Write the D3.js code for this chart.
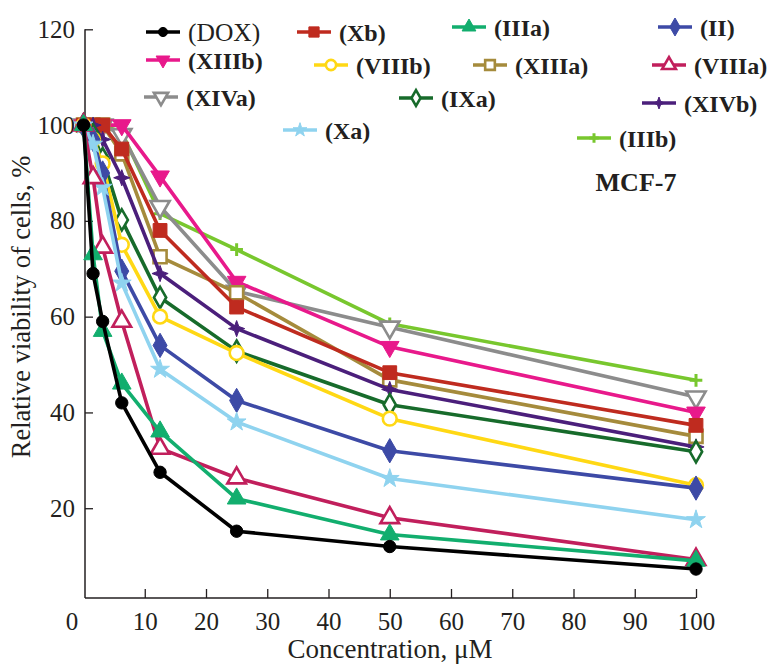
<!DOCTYPE html>
<html><head><meta charset="utf-8">
<script src="https://cdn.jsdelivr.net/npm/d3@7"></script>
<style>
body{margin:0;background:#fff}
svg{display:block}
text{font-family:"Liberation Serif","Times New Roman",serif;fill:#231f20}
</style>
</head><body><svg id="c" width="773" height="665"></svg>
<script>
// ---- data ----
const concentrations = [0, 1.56, 3.125, 6.25, 12.5, 25, 50, 100];
const DOX   = [100, 69, 59, 42, 27.5, 15.2, 12, 7.3];
const Xb    = [100, 100, 100, 95, 78, 62, 48.3, 37.3];
const IIIa  = [100, 73, 57, 46, 36, 22, 14.5, 9];
const II    = [100, 97, 90, 69.5, 54, 42.5, 32, 24.2];
const XIIIb = [100, 100, 100, 100, 89.3, 67.3, 53.7, 40];
const VIIIb = [100, 97, 92, 75, 60, 52.4, 38.7, 24.8];
const XIIIa = [100, 100, 100, 94, 72.5, 65, 46.8, 35];
const VIIIa = [100, 89, 74.5, 59, 32.5, 26.3, 18, 9.3];
const XIVa  = [100, 100, 100, 98, 83, 65.3, 57.8, 43.2];
const IXa   = [100, 98, 93, 80.2, 64, 52.8, 41.6, 31.8];
const XIVb  = [100, 100, 97, 89, 69, 57.5, 44.8, 32.8];
const Xa    = [100, 96, 87, 67, 49, 38, 26.2, 17.6];
const IIIb  = [100, 100, 100, 98.5, 81.5, 74, 58.5, 46.7];
const xTickValues = [0, 10, 20, 30, 40, 50, 60, 70, 80, 90, 100];
const yTickValues = [20, 40, 60, 80, 100, 120];
const seriesLabels = ["(DOX)","(Xb)","(IIIa)","(II)","(XIIIb)","(VIIIb)","(XIIIa)","(VIIIa)","(XIVa)","(IXa)","(XIVb)","(Xa)","(IIIb)"];

// ---- styles ----
const style = {
  "(DOX)":   {v: DOX,   color:"#000000", shape:"circle",  open:false, size:120},
  "(Xb)":    {v: Xb,    color:"#bf2b1f", shape:"square",  open:false, size:190},
  "(IIIa)":  {v: IIIa,  color:"#12ae6e", shape:"triUp",   open:false, size:150},
  "(II)":    {v: II,    color:"#3d4aa6", shape:"diamond", open:false, size:170},
  "(XIIIb)": {v: XIIIb, color:"#e8198b", shape:"triDown", open:false, size:150},
  "(VIIIb)": {v: VIIIb, color:"#ffd814", shape:"circle",  open:true,  size:150},
  "(XIIIa)": {v: XIIIa, color:"#a58b3c", shape:"square",  open:true,  size:170},
  "(VIIIa)": {v: VIIIa, color:"#c11f5c", shape:"triUp",   open:true,  size:150},
  "(XIVa)":  {v: XIVa,  color:"#8c8c8c", shape:"triDown", open:true,  size:160},
  "(IXa)":   {v: IXa,   color:"#176b2b", shape:"diamond", open:true,  size:130},
  "(XIVb)":  {v: XIVb,  color:"#4b1f7b", shape:"star4",   open:false, size:170},
  "(Xa)":    {v: Xa,    color:"#8fd3ef", shape:"star",    open:false, size:110},
  "(IIIb)":  {v: IIIb,  color:"#78c72e", shape:"plus",    open:false, size:160}
};
const drawOrder = ["(IIIb)","(XIVa)","(XIIIb)","(XIIIa)","(Xb)","(XIVb)","(IXa)","(VIIIb)","(II)","(Xa)","(VIIIa)","(IIIa)","(DOX)"];

const svg = d3.select("#c");
const x = d3.scaleLinear().domain([0, 100]).range([83.5, 696]);
const y = d3.scaleLinear().domain([0, 120]).range([604, 29.3]);
const axisY = 598, axisX = x(0) + 1.5;

const star4 = {draw(ctx, size){
  const r = Math.sqrt(size) * 0.62, ri = r * 0.38;
  for (let i = 0; i < 8; i++) {
    const a = i * Math.PI / 4 - Math.PI / 2, rr = i % 2 ? ri : r;
    const px = Math.cos(a) * rr, py = Math.sin(a) * rr;
    i ? ctx.lineTo(px, py) : ctx.moveTo(px, py);
  }
  ctx.closePath();
}};
const plus = {draw(ctx, size){
  const r = Math.sqrt(size) / 2;
  ctx.moveTo(-r, 0); ctx.lineTo(r, 0); ctx.moveTo(0, -r); ctx.lineTo(0, r);
}};
const symTypes = {circle:d3.symbolCircle, square:d3.symbolSquare, triUp:d3.symbolTriangle,
  triDown:d3.symbolTriangle, diamond:d3.symbolDiamond, star:d3.symbolStar, star4:star4, plus:plus};

function marker(g, s, cx, cy, scale) {
  const p = g.append("path")
    .attr("d", d3.symbol(symTypes[s.shape], s.size * scale)())
    .attr("transform", `translate(${cx},${cy})` + (s.shape === "triDown" ? " rotate(180)" : ""));
  if (s.shape === "plus") {
    p.attr("fill", "none").attr("stroke", s.color).attr("stroke-width", 3);
  } else if (s.open) {
    p.attr("fill", "#fff").attr("stroke", s.color).attr("stroke-width", 2.6);
  } else {
    p.attr("fill", s.color).attr("stroke", s.color).attr("stroke-width", 1);
  }
}

// ---- axes ----
const gx = svg.append("g").attr("transform", `translate(0,${axisY})`)
  .call(d3.axisBottom(x).tickValues(xTickValues).tickSize(-9).tickPadding(14));
gx.select(".domain").remove();
gx.selectAll(".tick line").attr("stroke", "#231f20").attr("stroke-width", 1.3);
gx.selectAll(".tick").filter(d => d === 0).select("line").remove();
gx.selectAll(".tick text").attr("font-size", 25).attr("fill", "#231f20")
  .attr("font-family", "Liberation Serif, serif")
  .attr("dx", d => d === 0 ? -12 : 0);

const gy = svg.append("g").attr("transform", `translate(${axisX},0)`)
  .call(d3.axisLeft(y).tickValues(yTickValues).tickSize(-8).tickPadding(10));
gy.select(".domain").remove();
gy.selectAll(".tick line").attr("stroke", "#231f20").attr("stroke-width", 1.3);
gy.selectAll(".tick text").attr("font-size", 25).attr("fill", "#231f20")
  .attr("font-family", "Liberation Serif, serif");

svg.append("line").attr("x1", axisX).attr("x2", axisX).attr("y1", axisY).attr("y2", y(120))
  .attr("stroke", "#231f20").attr("stroke-width", 1.5);
svg.append("line").attr("x1", axisX).attr("x2", x(100)).attr("y1", axisY).attr("y2", axisY)
  .attr("stroke", "#231f20").attr("stroke-width", 1.5);

svg.append("text").attr("x", 390).attr("y", 658).attr("text-anchor", "middle")
  .attr("font-size", 27).text("Concentration, μM");
svg.append("text").attr("transform", "translate(30,307) rotate(-90)").attr("text-anchor", "middle")
  .attr("font-size", 26.5).text("Relative viability of cells, %");

// ---- series ----
const line = d3.line().x((d, i) => x(concentrations[i])).y(d => y(d));
const plot = svg.append("g");
drawOrder.forEach(name => {
  const s = style[name];
  const g = plot.append("g");
  g.append("path").attr("d", line(s.v)).attr("fill", "none").attr("stroke", s.color)
    .attr("stroke-width", 3.6).attr("stroke-linejoin", "round");
  s.v.forEach((v, i) => marker(g, s, x(concentrations[i]), y(v), 1));
});

// ---- legend ----
const legendPos = {
  "(DOX)":[146,32], "(Xb)":[297,32], "(IIIa)":[452,27], "(II)":[658,27],
  "(XIIIb)":[146,60], "(VIIIb)":[314,65], "(XIIIa)":[473,65], "(VIIIa)":[652,65],
  "(XIVa)":[144,97], "(IXa)":[399,98], "(XIVb)":[642,103],
  "(Xa)":[283,130], "(IIIb)":[577,138]
};
const lg = svg.append("g");
seriesLabels.forEach(name => {
  const s = style[name], [lx, ly] = legendPos[name];
  lg.append("line").attr("x1", lx).attr("x2", lx + 34).attr("y1", ly).attr("y2", ly)
    .attr("stroke", s.color).attr("stroke-width", 3.6);
  marker(lg, s, lx + 17, ly, 0.55);
  lg.append("text").attr("x", lx + 42).attr("y", ly + 8.5)
    .attr("font-size", name === "(DOX)" ? 25.5 : 24)
    .attr("font-weight", name === "(DOX)" ? "normal" : "bold").text(name);
});
svg.append("text").attr("x", 636).attr("y", 191).attr("text-anchor", "middle")
  .attr("font-size", 26).attr("font-weight", "bold").text("MCF-7");
</script>
</body></html>
